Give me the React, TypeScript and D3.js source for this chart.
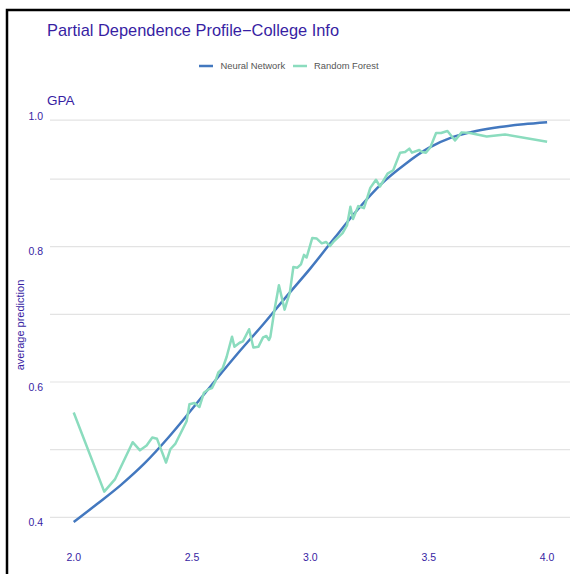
import React from "react";
import * as d3 from "d3";

// GPA grid values and model predictions
const nnX = [2.0, 2.1, 2.2, 2.3, 2.4, 2.5, 2.6, 2.7, 2.8, 2.9, 3.0, 3.1, 3.2, 3.3, 3.4, 3.5, 3.6, 3.7, 3.8, 3.9, 4.0];
const nnY = [0.393, 0.42, 0.448, 0.48, 0.518, 0.56, 0.603, 0.645, 0.685, 0.727, 0.768, 0.812, 0.855, 0.893, 0.922, 0.946, 0.962, 0.971, 0.977, 0.981, 0.984];

const rfX = [
  2.0, 2.129, 2.174, 2.249, 2.28, 2.308, 2.332, 2.352, 2.39, 2.409, 2.43, 2.477, 2.489, 2.51, 2.531,
  2.55, 2.569, 2.584, 2.597, 2.611, 2.629, 2.646, 2.669, 2.679, 2.701, 2.715, 2.741, 2.759, 2.78,
  2.8, 2.814, 2.825, 2.831, 2.848, 2.867, 2.891, 2.913, 2.928, 2.945, 2.96, 2.973, 2.984, 3.008,
  3.027, 3.048, 3.066, 3.083, 3.097, 3.136, 3.155, 3.169, 3.18, 3.202, 3.226, 3.239, 3.253, 3.277,
  3.294, 3.311, 3.326, 3.35, 3.379, 3.4, 3.418, 3.429, 3.46, 3.472, 3.488, 3.507, 3.531, 3.552,
  3.579, 3.611, 3.639, 3.674, 3.745, 3.822, 4.0,
];
const rfY = [
  0.555, 0.438, 0.456, 0.511, 0.499, 0.506, 0.518, 0.516, 0.481, 0.501, 0.509, 0.542, 0.567, 0.569, 0.563,
  0.584, 0.589, 0.591, 0.6, 0.614, 0.62, 0.637, 0.667, 0.652, 0.658, 0.66, 0.678, 0.651, 0.652,
  0.666, 0.668, 0.662, 0.667, 0.706, 0.743, 0.707, 0.732, 0.77, 0.769, 0.774, 0.788, 0.784, 0.813,
  0.812, 0.805, 0.807, 0.801, 0.807, 0.82, 0.832, 0.859, 0.841, 0.86, 0.857, 0.871, 0.887, 0.899,
  0.889, 0.899, 0.908, 0.913, 0.939, 0.94, 0.945, 0.939, 0.943, 0.94, 0.939, 0.947, 0.968, 0.968,
  0.971, 0.957, 0.969, 0.968, 0.963, 0.966, 0.955,
];

const xTicks = [2.0, 2.5, 3.0, 3.5, 4.0];
const yTicks = [0.4, 0.6, 0.8, 1.0];
const yGrid = [0.4, 0.5, 0.6, 0.7, 0.8, 0.9];

const seriesNames = ["Neural Network", "Random Forest"];
const seriesColors = ["#4378bf", "#8bdcbe"];

const W = 570;
const H = 574;
const PURPLE = "#371ea3";
const FONT = "'Liberation Sans', Arial, sans-serif";

export default function App() {
  const x = d3.scaleLinear().domain([2.0, 4.0]).range([73.7, 547.1]);
  const y = d3.scaleLinear().domain([0.4, 1.0]).range([517.3, 111.4]);
  const plotLeft = x(1.9);
  const plotRight = x(4.1);
  const plotTop = y(0.987);

  const nnData = nnX.map((v, i) => [v, nnY[i]] as [number, number]);
  const rfData = rfX.map((v, i) => [v, rfY[i]] as [number, number]);

  const smooth = d3.line<[number, number]>().x((d) => x(d[0])).y((d) => y(d[1])).curve(d3.curveMonotoneX);
  const straight = d3.line<[number, number]>().x((d) => x(d[0])).y((d) => y(d[1]));

  const fmt = d3.format(".1f");

  return (
    <svg
      width={W}
      height={H}
      style={{ position: "absolute", left: 0, top: 0, background: "#fff" }}
      fontFamily={FONT}
    >
      <rect x={0} y={0} width={W} height={H} fill="#fff" />
      {/* frame */}
      <path d={`M7,${H + 5} V10 H${W + 5}`} fill="none" stroke="#000" strokeWidth={2.5} />

      <text x={47} y={36} fontSize={16.4} fill={PURPLE}>
        Partial Dependence Profile−College Info
      </text>

      {/* legend */}
      <g fontSize={9.4} fill="#555">
        <line x1={199} x2={213} y1={66} y2={66} stroke={seriesColors[0]} strokeWidth={2.5} />
        <text x={220.5} y={69.3}>{seriesNames[0]}</text>
        <line x1={293} x2={307} y1={66} y2={66} stroke={seriesColors[1]} strokeWidth={2.5} />
        <text x={314} y={69.3}>{seriesNames[1]}</text>
      </g>

      <text x={47} y={104.5} fontSize={13.5} fill={PURPLE}>
        GPA
      </text>

      {/* grid */}
      <line x1={plotLeft} x2={plotRight} y1={plotTop} y2={plotTop} stroke="#e3e3e3" strokeWidth={1.2} />
      {yGrid.map((v) => (
        <line key={v} x1={plotLeft} x2={plotRight} y1={y(v)} y2={y(v)} stroke="#e3e3e3" strokeWidth={1.2} />
      ))}

      {/* y tick labels */}
      {yTicks.map((v) => (
        <text
          key={v}
          x={43}
          y={y(v) + 5}
          dy="0.35em"
          textAnchor="end"
          fontSize={10.5}
          fill={PURPLE}
        >
          {fmt(v)}
        </text>
      ))}

      {/* x tick labels */}
      {xTicks.map((v) => (
        <text key={v} x={x(v)} y={557} dy="0.35em" textAnchor="middle" fontSize={10.5} fill={PURPLE}>
          {fmt(v)}
        </text>
      ))}

      <text
        transform={`translate(23.5,325) rotate(-90)`}
        textAnchor="middle"
        fontSize={11}
        fill={PURPLE}
      >
        average prediction
      </text>

      <path d={smooth(nnData) ?? ""} fill="none" stroke={seriesColors[0]} strokeWidth={2.5} strokeLinejoin="round" />
      <path d={straight(rfData) ?? ""} fill="none" stroke={seriesColors[1]} strokeWidth={2.5} strokeLinejoin="round" />
    </svg>
  );
}
